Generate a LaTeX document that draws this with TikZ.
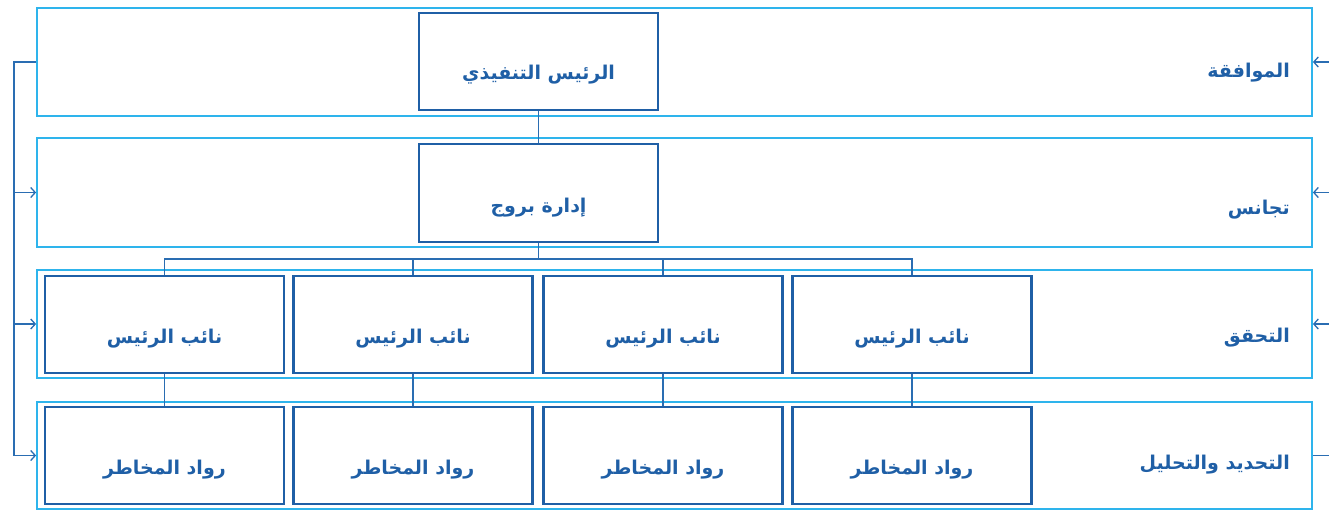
\documentclass[tikz,border=0pt]{standalone}
\usepackage{fontspec}
\usetikzlibrary{arrows.meta}
\newfontfamily\arabicfont[Script=Arabic]{DejaVu Sans}
\TeXXeTstate=1
\definecolor{bandc}{HTML}{2EB4EC}
\definecolor{boxc}{HTML}{1F5FA6}
\definecolor{linec}{HTML}{2A6DB2}
\newcommand{\ar}[1]{\arabicfont\bfseries\beginR #1\endR}
\begin{document}
\begin{tikzpicture}[x=1pt,y=-1pt,
  band/.style={draw=bandc,line width=1.8pt,minimum width=1275pt,inner sep=0pt},
  boxn/.style={draw=boxc,line width=2.2pt,minimum width=239pt,minimum height=97pt,inner sep=0pt},
  btext/.style={text=boxc,inner sep=0pt,font=\fontsize{19}{22}\selectfont},
  lab/.style={anchor=east,text=boxc,inner sep=0pt,font=\fontsize{19}{22}\selectfont},
  conn/.style={draw=linec,line width=1.8pt},
  arr/.style={draw=linec,line width=1.3pt,-{Straight Barb[length=4.5pt,width=10pt]}}]
\useasboundingbox (0,0) rectangle (1329,511);
% bands
\node[band,minimum height=108pt] (b1) at (674.5,62) {};
\node[band,minimum height=109pt] (b2) at (674.5,192.5) {};
\node[band,minimum height=108pt] (b3) at (674.5,324) {};
\node[band,minimum height=107pt] (b4) at (674.5,455.5) {};
% band labels
\node[lab] (t1) at (1290,73) {\ar{الموافقة}};
\node[lab] (t2) at (1290,210) {\ar{تجانس}};
\node[lab] (t3) at (1290,338) {\ar{التحقق}};
\node[lab] (t4) at (1290,465) {\ar{التحديد والتحليل}};
% boxes
\node[boxn] (ceo) at (538.5,61.5) {};
\node[btext] (ceot) at ([yshift=-13pt]ceo.center) {\ar{الرئيس التنفيذي}};
\node[boxn,minimum height=98pt] (mgmt) at (538.5,193) {};
\node[btext] (mgmtt) at ([yshift=-15pt]mgmt.center) {\ar{إدارة بروج}};
\foreach \i/\x in {1/164.5,2/413,3/663,4/912}{
  \node[boxn] (vp\i) at (\x,324.5) {};
  \node[btext] (vpt\i) at ([yshift=-14pt]vp\i.center) {\ar{نائب الرئيس}};
  \node[boxn] (rp\i) at (\x,455.5) {};
  \node[btext] (rpt\i) at ([yshift=-14pt]rp\i.center) {\ar{رواد المخاطر}};
}
% tree connectors
\draw[conn] (ceo.south) -- (mgmt.north);
\coordinate (hub) at (538.5,259);
\draw[conn] (mgmt.south) -- (hub);
\draw[conn] (vp1.north) |- (hub) -| (vp4.north);
\draw[conn] (vp2.north) -- (vp2.north |- hub);
\draw[conn] (vp3.north) -- (vp3.north |- hub);
\foreach \i in {1,2,3,4}{
  \draw[conn] (vp\i.south) -- (rp\i.north);
}
% left bracket
\coordinate (l1) at (14,62);
\coordinate (l4) at (14,455.5);
\draw[conn,line width=1.4pt] (b1.west) -- (l1) -- (l4);
\draw[arr] (l4) -- (b4.west);
\draw[arr] (b2.west -| l1) -- (b2.west);
\draw[arr] (b3.west -| l1) -- (b3.west);
% right side
\coordinate (r1) at (1329,62);
\coordinate (r2) at (1329,192.5);
\coordinate (r3) at (1329,324);
\coordinate (r4) at (1329,455.5);
\draw[arr] (r1) -- (b1.east);
\draw[arr] (r2) -- (b2.east);
\draw[arr] (r3) -- (b3.east);
\draw[conn,line width=1.4pt] (r4) -- (b4.east);
\end{tikzpicture}
\end{document}
